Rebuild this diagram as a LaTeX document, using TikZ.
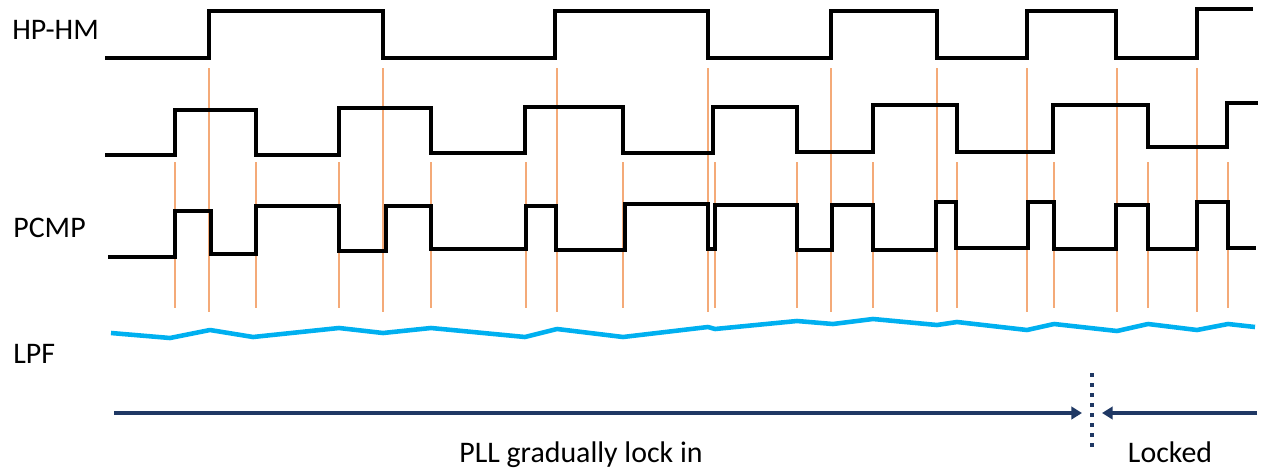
\documentclass[tikz,border=0pt]{standalone}
\usepackage{fontspec}
\setmainfont{Carlito}
\usetikzlibrary{arrows.meta}

\definecolor{edgeorange}{RGB}{244,170,120}
\definecolor{lpfblue}{RGB}{0,176,240}
\definecolor{navy}{RGB}{31,56,100}

\begin{document}
\begin{tikzpicture}[x=0.02cm, y=-0.02cm,
  wave/.style={line width=2.1pt, line join=miter},
  edge/.style={edgeorange, line width=1pt},
  lbl/.style={inner sep=0pt, font=\fontsize{17}{20}\selectfont}]
\useasboundingbox (0,0) rectangle (1263,470); % 그림 크기

%% 신호 이름
\node[lbl, anchor=base west] (hphm) at (12,39) {HP-HM};
\node[lbl, anchor=base west] (pcmp) at (13,237) {PCMP};
\node[lbl, anchor=base west] (lpf) at (13,363) {LPF};

%% 주황색 세로선
\foreach \x in {209,383,557,708,831,937,1027,1117,1197}
  \draw[edge] (\x,68) -- (\x,312); % HP-HM 모서리
\foreach \x in {175,256,339,431,526,623,715,797,873,957,1054,1148,1228}
  \draw[edge] (\x,162) -- (\x,308); % 두 번째 파형 모서리

%% HP-HM
\draw[wave] (105,58) -| (209,11) -| (383,58) -| (555,11) -| (708,58) -| (831,11)
  -| (937,58) -| (1027,11) -| (1116,58) -| (1197,9) -- (1253,9);

%% 두 번째 파형
\draw[wave] (105,155) -| (175,110) -| (256,155) -| (339,108) -| (431,153) -| (525,107)
  -| (623,153) -| (713,107) -| (797,152) -| (873,105) -| (957,152) -| (1053,105)
  -| (1148,147) -| (1227,103) -- (1258,103);

%% PCMP
\draw[wave] (108,257) -| (175,211) -| (211,254) -| (256,206) -| (339,251) -| (386,206)
  -| (431,249) -| (526,206) -| (556,250) -| (625,204) -| (708,249) -| (715,205)
  -| (797,250) -| (832,205) -| (873,250) -| (936,202) -| (956,248) -| (1028,202)
  -| (1054,249) -| (1116,205) -| (1148,249) -| (1197,202) -| (1228,248) -- (1256,248);

%% LPF
\draw[lpfblue, line width=2.6pt, line join=round] plot coordinates {(111,333) (170,338)
  (210,330) (253,337) (339,328) (383,333) (431,328) (525,337) (557,329) (623,337)
  (708,327) (715,329) (797,321) (833,324) (873,319) (937,325) (957,322) (1027,330)
  (1054,324) (1117,331) (1148,324) (1197,330) (1228,324) (1255,327)};

%% 구간 화살표
\coordinate (st) at (114,413);
\coordinate (lk1) at (1082,413);
\coordinate (lk2) at (1102,413);
\coordinate (en) at (1257,413);
\draw[navy, line width=2pt, -{Triangle[length=6pt, width=7pt]}] (st) -- (lk1);
\draw[navy, line width=2pt, -{Triangle[length=6pt, width=7pt]}] (en) -- (lk2);
\draw[navy, line width=2.4pt, dash pattern=on 2.4pt off 3.3pt] (1092,373) -- (1092,452); % 경계

\node[lbl, anchor=base] (gradual) at (581,462) {PLL gradually lock in};
\node[lbl, anchor=base] (locked) at (1170,462) {Locked};
\end{tikzpicture}
\end{document}
